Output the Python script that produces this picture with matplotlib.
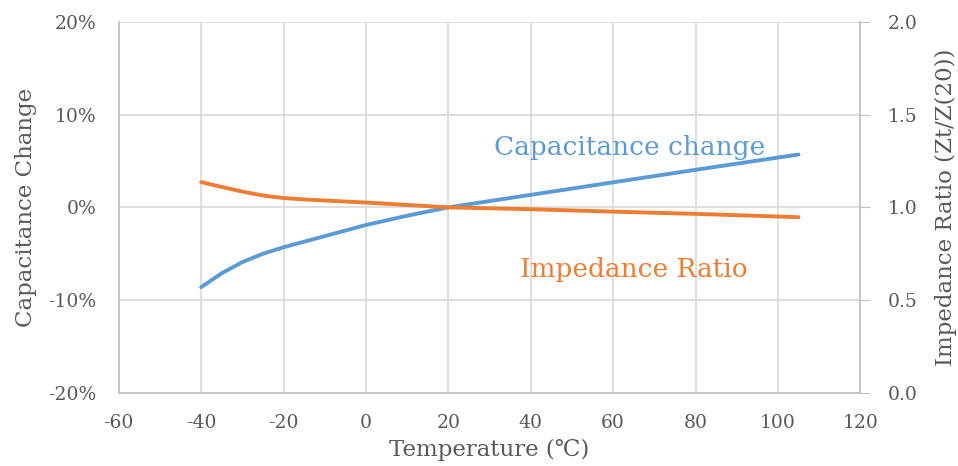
import matplotlib.pyplot as plt
import numpy as np
from matplotlib.ticker import FuncFormatter

plt.rcParams['font.family'] = ['DejaVu Serif', 'DejaVu Sans']

# data
temp = [-40, -35, -30, -25, -20, -15, -10, 0, 10, 20, 40, 60, 80, 105]
cap_change = [-8.6, -7.1, -5.9, -5.0, -4.3, -3.7, -3.1, -1.9, -0.9, 0.0, 1.35, 2.7, 4.05, 5.7]
imp_ratio = [1.136, 1.11, 1.085, 1.064, 1.05, 1.043, 1.037, 1.026, 1.013, 1.0, 0.99, 0.977, 0.965, 0.947]

blue = '#5b9bd5'
orange = '#ed7d31'
gray = '#595959'
grid_c = '#d9d9d9'

fig = plt.figure(figsize=(9.58, 4.66), dpi=100)
ax = fig.add_axes([0.124, 0.157, 0.774, 0.796])
ax2 = ax.twinx()

ax.plot(temp, cap_change, color=blue, lw=2.8, solid_capstyle='round')
ax2.plot(temp, imp_ratio, color=orange, lw=2.8, solid_capstyle='round')

ax.set_xlim(-60, 120)
ax.set_ylim(-20, 20)
ax2.set_ylim(0, 2.0)
ax.set_xticks(np.arange(-60, 121, 20))
ax.set_yticks(np.arange(-20, 21, 10))
ax2.set_yticks(np.arange(0, 2.01, 0.5))
ax.yaxis.set_major_formatter(FuncFormatter(lambda v, p: f'{v:.0f}%'))
ax2.yaxis.set_major_formatter(FuncFormatter(lambda v, p: f'{v:.1f}'))
ax.xaxis.set_major_formatter(FuncFormatter(lambda v, p: f'{v:.0f}'))

ax.grid(True, color=grid_c, lw=1.2)
ax.set_axisbelow(True)
ax2.set_zorder(ax.get_zorder() + 1)
ax2.patch.set_visible(False)

for a in (ax, ax2):
    a.spines['top'].set_visible(False)
    for s in ('left', 'right', 'bottom'):
        a.spines[s].set_color('#bfbfbf')
        a.spines[s].set_linewidth(1.2)
ax.spines['right'].set_visible(False)
ax2.spines['left'].set_visible(False)
ax2.spines['bottom'].set_visible(False)

ax.tick_params(axis='x', length=0, labelsize=13.5, labelcolor=gray, pad=15)
ax.tick_params(axis='y', length=0, labelsize=13.5, labelcolor=gray, pad=16)
ax2.tick_params(axis='y', length=7, color='#bfbfbf', labelsize=13.5, labelcolor=gray, pad=13)

ax.set_xlabel('Temperature (℃)', fontsize=16.5, color=gray, labelpad=5)
ax.set_ylabel('Capacitance Change', fontsize=16.5, color=gray, labelpad=8)
ax2.set_ylabel('Impedance Ratio (Zt/Z(20))', fontsize=16.5, color=gray, labelpad=12)

ax.text(64, 6.5, 'Capacitance change', color=blue, fontsize=19, ha='center', va='center')
ax.text(65, -6.7, 'Impedance Ratio', color=orange, fontsize=19, ha='center', va='center')

fig.savefig('out.png', dpi=100)
